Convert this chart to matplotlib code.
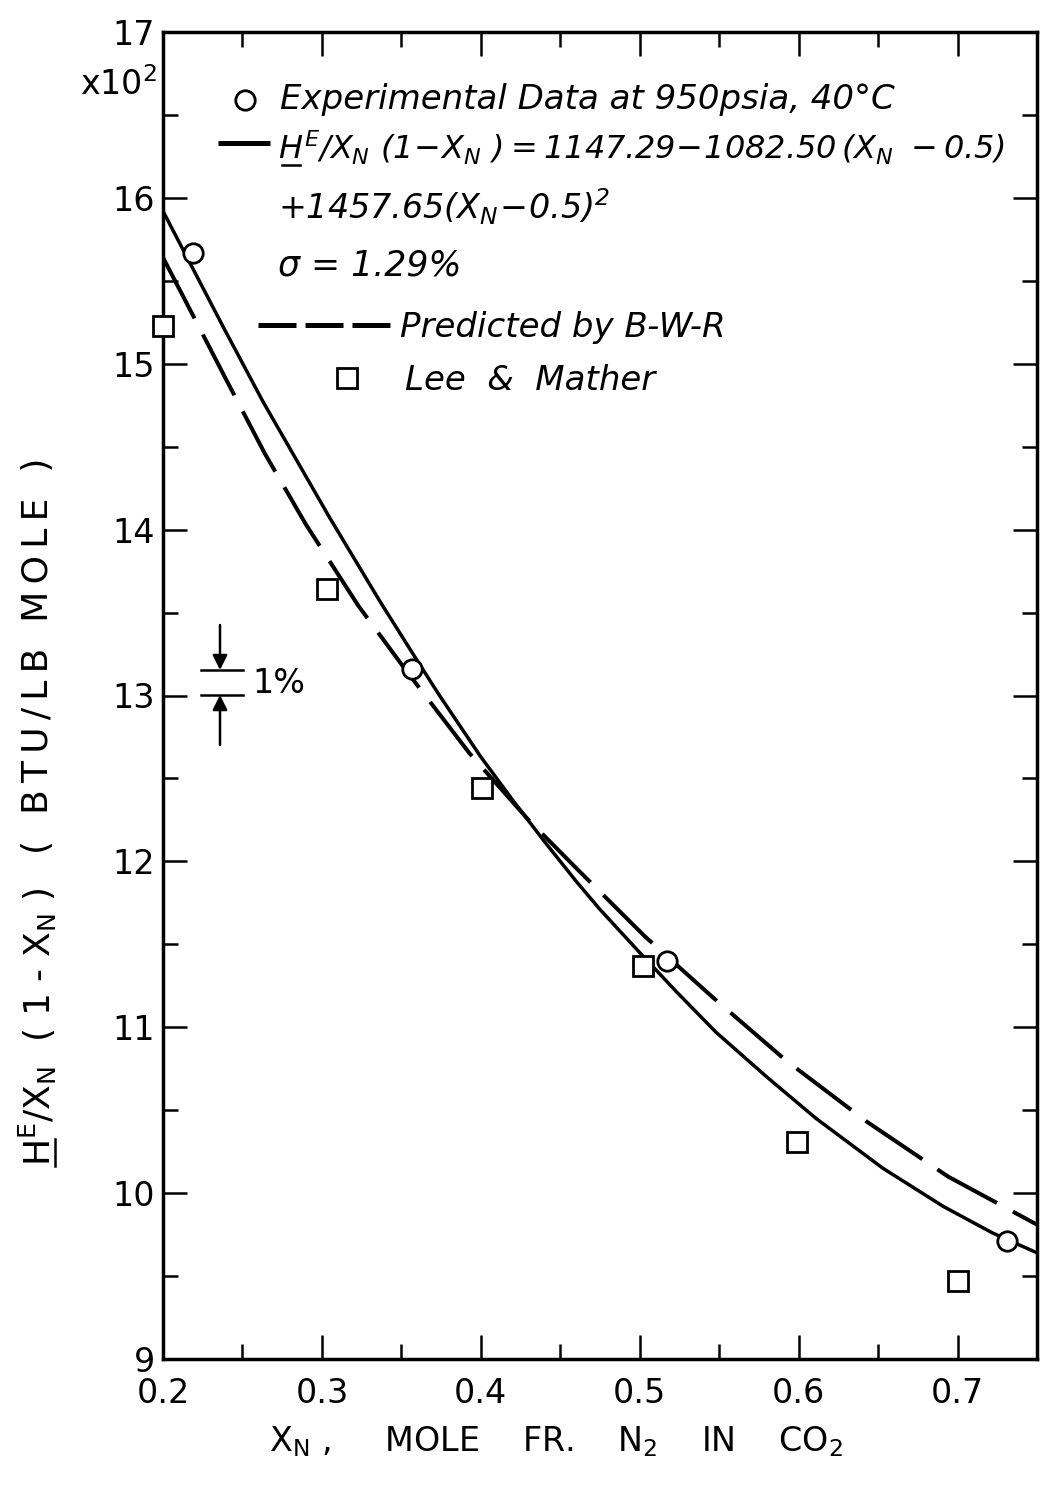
#!/usr/bin/env python3
# -*- coding: utf-8 -*-
"""
Excess enthalpy of N2-CO2 mixtures at 950 psia, 40 C:
experimental points, quadratic fit, B-W-R prediction and Lee & Mather data.
Writes out.png (1041 x 1490).
"""
import matplotlib
matplotlib.use("Agg")
import matplotlib.pyplot as plt
from matplotlib.ticker import FixedLocator


# experimental data at 950 psia, 40 C (open circles)
exp_x = [0.219, 0.357, 0.517, 0.731]
exp_y = [15.67, 13.16, 11.40, 9.71]

# Lee & Mather (open squares)
lee_x = [0.200, 0.303, 0.401, 0.502, 0.599, 0.700]
lee_y = [15.23, 13.64, 12.44, 11.37, 10.31, 9.47]

# fitted correlation (solid line)
fit_x = [0.200, 0.238, 0.263, 0.305, 0.337, 0.360, 0.374, 0.400, 0.420,
         0.440, 0.460, 0.475, 0.500, 0.523, 0.548, 0.580, 0.611, 0.653,
         0.691, 0.722, 0.750]
fit_y = [15.92, 15.22, 14.77, 14.07, 13.56, 13.21, 13.00, 12.63, 12.37,
         12.12, 11.88, 11.71, 11.45, 11.215, 10.97, 10.70, 10.45, 10.15,
         9.92, 9.76, 9.64]

# B-W-R prediction (dashed line)
bwr_x = [0.200, 0.213, 0.240, 0.264, 0.290, 0.323, 0.353, 0.393, 0.430,
         0.461, 0.503, 0.546, 0.592, 0.643, 0.694, 0.750]
bwr_y = [15.64, 15.40, 14.90, 14.46, 14.03, 13.54, 13.15, 12.65, 12.25,
         11.95, 11.55, 11.18, 10.80, 10.43, 10.10, 9.81]

x_ticks = [0.2, 0.3, 0.4, 0.5, 0.6, 0.7]
x_tick_labels = ["0.2", "0.3", "0.4", "0.5", "0.6", "0.7"]
x_minor = [0.25, 0.35, 0.45, 0.55, 0.65]
y_ticks = [9, 10, 11, 12, 13, 14, 15, 16, 17]
y_minor = [9.5, 10.5, 11.5, 12.5, 13.5, 14.5, 15.5, 16.5]

legend_exp = "Experimental Data at 950psia, 40°C"
legend_fit1 = (r"$H^{E}/X_{N}\ (1\!-\!X_{N}\ )=1147.29\!-\!1082.50\,"
               r"(X_{N}\ -0.5)$")
legend_fit2 = r"$+1457.65(X_{N}\!-\!0.5)^{2}$"
legend_sigma = "σ = 1.29%"
legend_bwr = "Predicted by B-W-R"
legend_lee = "Lee & Mather"

plt.rcParams["font.family"] = ["DejaVu Sans"]
plt.rcParams["mathtext.fontset"] = "custom"
plt.rcParams["mathtext.rm"] = "DejaVu Sans:italic"
plt.rcParams["mathtext.it"] = "DejaVu Sans:italic"
plt.rcParams["mathtext.bf"] = "DejaVu Sans:italic:bold"

W, H = 1041, 1490
AX_L, AX_R, AX_T, AX_B = 163, 1037, 32, 1359
THIN = "\u2009"


def fx(px):
    return (px - AX_L) / (AX_R - AX_L)


def fy(py):
    return (AX_B - py) / (AX_B - AX_T)


fig = plt.figure(figsize=(W / 100, H / 100), dpi=100)
ax = fig.add_axes([AX_L / W, 1 - AX_B / H, (AX_R - AX_L) / W, (AX_B - AX_T) / H])

ax.plot(fit_x, fit_y, color="black", lw=2.5, solid_capstyle="butt")
ax.plot(bwr_x, bwr_y, color="black", lw=2.9, linestyle=(0, (17, 4.5)))
ax.plot(lee_x, lee_y, linestyle="none", marker="s", ms=14, mfc="white",
        mec="black", mew=2.0, clip_on=False, zorder=4)
ax.plot(exp_x, exp_y, linestyle="none", marker="o", ms=14, mfc="white",
        mec="black", mew=2.0, clip_on=False, zorder=5)

ax.set_xlim(0.2, 0.75)
ax.set_ylim(9, 17)
ax.set_xticks(x_ticks)
ax.set_xticklabels(x_tick_labels)
ax.xaxis.set_minor_locator(FixedLocator(x_minor))
ax.set_yticks(y_ticks)
ax.set_yticklabels([str(v) for v in y_ticks])
ax.yaxis.set_minor_locator(FixedLocator(y_minor))
ax.tick_params(which="both", direction="in", top=True, right=True,
               width=1.8, labelsize=24)
ax.tick_params(which="major", length=17)
ax.tick_params(which="minor", length=11)
ax.tick_params(axis="x", pad=13)
ax.tick_params(axis="y", pad=6)
for sp in ax.spines.values():
    sp.set_linewidth(2.5)

# in-plot legend
ta = ax.transAxes
ax.plot([fx(245)], [fy(100)], transform=ta, marker="o", ms=14, mfc="white",
        mec="black", mew=2.0, linestyle="none")
ax.text(fx(280), fy(100), legend_exp, transform=ta, va="center",
        style="italic", fontsize=24.5)
ax.plot([fx(218), fx(270)], [fy(143), fy(143)], transform=ta, color="black",
        lw=3.6, solid_capstyle="butt")
ax.text(fx(278), fy(148), legend_fit1, transform=ta, va="center", fontsize=23)
# underline under the H of the fit label
ax.plot([fx(282), fx(300)], [fy(165), fy(165)], transform=ta, color="black",
        lw=1.8)
ax.text(fx(278), fy(207), legend_fit2, transform=ta, va="center", fontsize=24)
ax.text(fx(278), fy(265), legend_sigma, transform=ta, va="center",
        style="italic", fontsize=25)
ax.plot([fx(258), fx(390)], [fy(325), fy(325)], transform=ta, color="black",
        lw=3.6, linestyle=(0, (7.6, 1.8)))
ax.text(fx(400), fy(327), legend_bwr, transform=ta, va="center",
        style="italic", fontsize=24.5)
ax.plot([fx(347)], [fy(378)], transform=ta, marker="s", ms=14, mfc="white",
        mec="black", mew=2.0, linestyle="none")
ax.text(fx(405), fy(380), "Lee  &  Mather", transform=ta, va="center",
        style="italic", fontsize=24.5)

# 1% scale marker
ax.plot([fx(201), fx(243)], [fy(670), fy(670)], transform=ta, color="black", lw=1.8)
ax.plot([fx(201), fx(243)], [fy(695), fy(695)], transform=ta, color="black", lw=1.8)
arrow = dict(arrowstyle="-|>", color="black", lw=1.8, mutation_scale=22,
             shrinkA=0, shrinkB=0)
ax.annotate("", xy=(fx(220), fy(670)), xytext=(fx(220), fy(625)),
            xycoords=ta, textcoords=ta, arrowprops=arrow)
ax.annotate("", xy=(fx(220), fy(695)), xytext=(fx(220), fy(745)),
            xycoords=ta, textcoords=ta, arrowprops=arrow)
ax.text(fx(252), fy(684), "1%", transform=ta, va="center", fontsize=24)

# axis labels
fig.text(80 / W, 1 - 85 / H, r"x10$^{\mathrm{2}}$", va="center", ha="left",
         fontsize=24, math_fontfamily="dejavusans")
fig.text(556 / W, 1 - 1442 / H,
         r"$\mathrm{X_{N}}$ ,     MOLE    FR.    $\mathrm{N_{2}}$    IN    "
         r"$\mathrm{CO_{2}}$",
         ha="center", va="center", fontsize=24, math_fontfamily="dejavusans")
ylab_a = fig.text(38 / W, 1 - 1027 / H,
                  r"$\mathrm{H^{E}/X_{N}}$  ( 1 - $\mathrm{X_{N}}$ )",
                  rotation=90, ha="center", va="center", fontsize=26,
                  math_fontfamily="dejavusans")
fig.text(38 / W, 1 - 656 / H, THIN.join("( BTU/LB MOLE )"),
         rotation=90, ha="center", va="center", fontsize=26)

# underline under the H of the rotated y label, placed from its drawn extent
fig.canvas.draw()
bb = ylab_a.get_window_extent()
ux = bb.x1 - 4
fig.lines.append(plt.Line2D([ux / W, ux / W], [bb.y0 / H, (bb.y0 + 27) / H],
                            transform=fig.transFigure, color="black", lw=1.8))

fig.savefig("out.png", dpi=100, facecolor="white")
